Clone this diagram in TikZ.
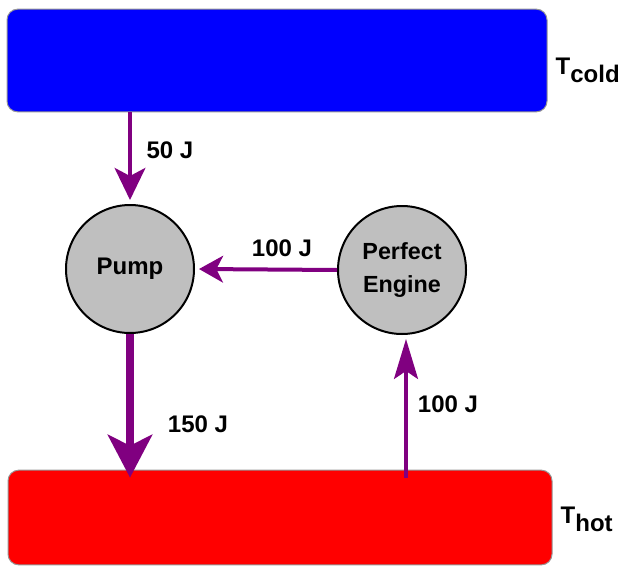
\documentclass[tikz,border=0pt]{standalone}
\usepackage{fontspec}
\setmainfont{Liberation Sans}
\usetikzlibrary{arrows.meta,positioning}
\definecolor{flow}{rgb}{0.5,0,0.5}
\definecolor{disc}{rgb}{0.75,0.75,0.75}

\begin{document}
\begin{tikzpicture}[x=0.75pt,y=0.75pt,yscale=-1,xscale=1,
  every node/.style={font=\fontsize{18}{19}\selectfont\bfseries},
  reservoir/.style={draw={rgb,255:red,150;green,150;blue,150},line width=0.75pt,rounded corners=8pt,minimum width=405pt,inner sep=0pt},
  device/.style={circle,draw=black,line width=1.5pt,fill=disc,minimum size=96pt,inner sep=0pt,align=center},
  heat/.style={color=flow,line width=3pt}]
				\useasboundingbox (0,0) rectangle (623,574);
				
				% reservoirs
				\node [reservoir,fill=blue,minimum height=77pt] (cold) at (277,60.5) {};
				\node [reservoir,fill=red,minimum width=408pt,minimum height=71pt] (hot) at (280,517.5) {};
				% Text Node
				\node [anchor=west] (tcold) at (551,70) {T\raisebox{-6pt}{cold}};
				% Text Node
				\node [anchor=west] (thot) at (556,519) {T\raisebox{-6pt}{hot}};
				
				% machines
				\node [device] (pump) at (130,269) {Pump};
				\node [device,font=\fontsize{17.5}{21}\selectfont\bfseries] (engine) at (402,270) {Perfect\\[4pt]Engine};
				
				% heat flows
				\draw [heat,-{Stealth[length=24pt,width=23pt,inset=6pt]}] (pump.north |- cold.south) -- ([yshift=-3pt]pump.north);
				\draw [heat,line width=6pt,-{Stealth[length=32pt,width=33pt,inset=8pt]}] (pump.south) -- ([yshift=6pt]pump.south |- hot.north);
				\draw [heat,-{Stealth[length=18pt,width=20pt,inset=5pt]}] (engine.west) -- ([xshift=3pt]pump.east);
				\draw [heat,line width=2.5pt,-{Stealth[length=30pt,width=18pt,inset=6pt]}] ([yshift=6pt,xshift=3pt]engine.south |- hot.north) -- ([xshift=3pt,yshift=3pt]engine.south);
				
				% Text Node
				\node (q50) at (170,150) {50 J};
				% Text Node
				\node (q150) at (198,424) {150 J};
				% Text Node
				\node (qw) at (282,248) {100 J};
				% Text Node
				\node (qin) at (448,404) {100 J};
				
			\end{tikzpicture}
\end{document}
